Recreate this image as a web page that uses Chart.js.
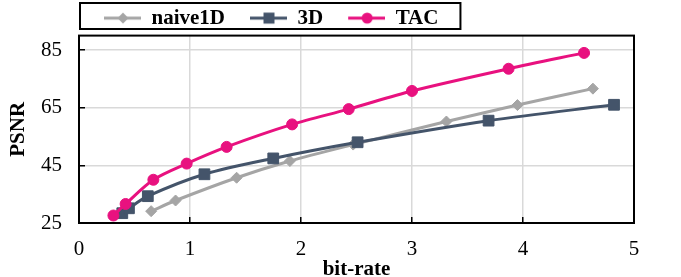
<!DOCTYPE html>
<html>
<head>
<meta charset="utf-8">
<script src="https://cdn.jsdelivr.net/npm/chart.js@4.4.1/dist/chart.umd.min.js"></script>
<style>
html, body { margin: 0; padding: 0; background: #fff; }
</style>
</head>
<body>
<canvas id="myChart" width="681" height="277"></canvas>
<script>
// values
var seriesNames = ['naive1D', '3D', 'TAC'];
var seriesColors = ['#A5A5A5', '#44546A', '#E8117F'];

var naiveX = [0.65, 0.87, 1.42, 1.90, 2.47, 3.31, 3.95, 4.63];
var naiveY = [29.1, 32.8, 40.7, 46.5, 52.2, 60.2, 65.9, 71.6];

var d3X = [0.39, 0.45, 0.62, 1.13, 1.75, 2.51, 3.69, 4.82];
var d3Y = [28.4, 30.1, 34.3, 41.9, 47.4, 53.0, 60.5, 66.0];

var tacX = [0.31, 0.42, 0.67, 0.97, 1.33, 1.92, 2.43, 3.00, 3.87, 4.55];
var tacY = [27.6, 31.6, 40.0, 45.6, 51.4, 59.2, 64.5, 70.8, 78.5, 84.0];

var yTicks = [25, 45, 65, 85];
var xTitle = 'bit-rate';
var yTitle = 'PSNR';

var FONT = "'Liberation Serif', 'Times New Roman', serif";

function toPoints(xs, ys) {
  var pts = [];
  for (var i = 0; i < xs.length; i++) {
    pts.push({x: xs[i], y: ys[i]});
  }
  return pts;
}

// small line+marker picture for the legend
function makeIcon(color, style) {
  var c = document.createElement('canvas');
  c.width = 58;
  c.height = 14;
  var g = c.getContext('2d');
  g.strokeStyle = color;
  g.fillStyle = color;
  g.lineWidth = 3;
  g.beginPath();
  g.moveTo(21, 7);
  g.lineTo(58, 7);
  g.stroke();
  var cx = 40, cy = 7;
  g.beginPath();
  if (style == 'rectRot') {
    g.moveTo(cx, cy - 5.5); g.lineTo(cx + 5.5, cy); g.lineTo(cx, cy + 5.5); g.lineTo(cx - 5.5, cy);
    g.closePath();
  } else if (style == 'rect') {
    g.rect(cx - 5.5, cy - 5.5, 11, 11);
  } else {
    g.arc(cx, cy, 5.5, 0, Math.PI * 2);
  }
  g.fill();
  return c;
}

var pointStyles = ['rectRot', 'rect', 'circle'];
var pointRadii = [5.5, 7.6, 5.5];

var frame = {
  id: 'frame',
  beforeDatasetsDraw: function(chart) {
    var a = chart.chartArea, ctx = chart.ctx;
    ctx.save();
    ctx.strokeStyle = '#000';
    ctx.lineWidth = 2;
    ctx.strokeRect(a.left, a.top, a.right - a.left, a.bottom - a.top);
    ctx.restore();
  }
};

var legendBox = {
  id: 'legendBox',
  afterDraw: function(chart) {
    var lg = chart.legend;
    if (!lg || !lg.legendHitBoxes || !lg.legendHitBoxes.length) return;
    var last = lg.legendHitBoxes[lg.legendHitBoxes.length - 1];
    var ctx = chart.ctx;
    var left = lg.left + 1;
    var right = last.left + last.width + 22;
    var top = 3, bottom = 29;
    ctx.save();
    ctx.strokeStyle = '#000';
    ctx.lineWidth = 2;
    ctx.strokeRect(left, top, right - left, bottom - top);
    ctx.restore();
  }
};

var datasets = [];
var xs = [naiveX, d3X, tacX];
var ys = [naiveY, d3Y, tacY];
var orders = [2, 1, 0];
for (var k = 0; k < 3; k++) {
  datasets.push({
    label: seriesNames[k],
    data: toPoints(xs[k], ys[k]),
    borderColor: seriesColors[k],
    backgroundColor: seriesColors[k],
    pointBackgroundColor: seriesColors[k],
    pointBorderColor: seriesColors[k],
    pointStyle: pointStyles[k],
    pointRadius: pointRadii[k],
    pointBorderWidth: 1,
    borderWidth: 3,
    tension: 0.3,
    fill: false,
    clip: false,
    order: orders[k]
  });
}

window.Line = new Chart(document.getElementById('myChart').getContext('2d'), {
  type: 'line',
  data: { datasets: datasets },
  options: {
    responsive: false,
    animation: false,
    layout: { padding: { top: 2, right: 47, bottom: 0, left: 0 } },
    plugins: {
      tooltip: { enabled: false },
      legend: {
        position: 'top',
        align: 'start',
        fullSize: false,
        maxHeight: 32,
        labels: {
          usePointStyle: true,
          pointStyleWidth: 58,
          padding: 4,
          color: '#000',
          font: { family: FONT, size: 21, weight: 'bold' },
          generateLabels: function(chart) {
            return seriesNames.map(function(name, i) {
              return {
                text: name,
                fillStyle: seriesColors[i],
                strokeStyle: seriesColors[i],
                lineWidth: 0,
                pointStyle: makeIcon(seriesColors[i], pointStyles[i]),
                hidden: false,
                datasetIndex: i,
                fontColor: '#000'
              };
            });
          }
        }
      }
    },
    scales: {
      x: {
        type: 'linear',
        min: 0,
        max: 5,
        ticks: {
          stepSize: 1,
          padding: 20,
          color: '#000',
          font: { family: FONT, size: 21 }
        },
        grid: { color: '#D9D9D9', lineWidth: 1.5, drawTicks: true, tickLength: -6, tickColor: '#000', tickWidth: 1.5 },
        border: { display: false },
        title: {
          display: true,
          text: xTitle,
          color: '#000',
          font: { family: FONT, size: 21, weight: 'bold', lineHeight: 1 },
          padding: { top: 0, bottom: -3 }
        },
        afterFit: function(scale) { scale.height = 54; }
      },
      y: {
        type: 'linear',
        min: 25,
        max: 90,
        afterBuildTicks: function(scale) {
          scale.ticks = yTicks.map(function(v) { return {value: v}; });
        },
        ticks: {
          padding: 23,
          color: '#000',
          font: { family: FONT, size: 21 }
        },
        grid: { color: '#D9D9D9', lineWidth: 1.5, drawTicks: true, tickLength: -6, tickColor: '#000', tickWidth: 1.5 },
        border: { display: false },
        title: {
          display: true,
          text: yTitle,
          color: '#000',
          font: { family: FONT, size: 21, weight: 'bold' },
          padding: { top: 6, bottom: 0 }
        },
        afterFit: function(scale) { scale.width = 79; }
      }
    }
  },
  plugins: [frame, legendBox]
});
</script>
</body>
</html>
